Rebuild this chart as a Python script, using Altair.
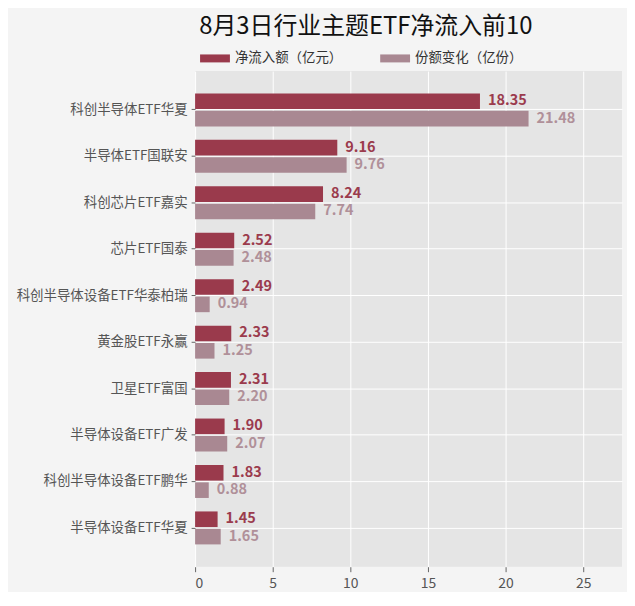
import altair as alt
import pandas as pd

categories = ["科创半导体ETF华夏", "半导体ETF国联安", "科创芯片ETF嘉实", "芯片ETF国泰",
              "科创半导体设备ETF华泰柏瑞", "黄金股ETF永赢", "卫星ETF富国",
              "半导体设备ETF广发", "科创半导体设备ETF鹏华", "半导体设备ETF华夏"]
net_inflow = [18.35, 9.16, 8.24, 2.52, 2.49, 2.33, 2.31, 1.90, 1.83, 1.45]
share_change = [21.48, 9.76, 7.74, 2.48, 0.94, 1.25, 2.20, 2.07, 0.88, 1.65]
series = ["净流入额（亿元）", "份额变化（亿份）"]
x_ticks = [0, 5, 10, 15, 20, 25]

rows = []
for c, a, b in zip(categories, net_inflow, share_change):
    rows.append({"cat": c, "series": series[0], "value": a})
    rows.append({"cat": c, "series": series[1], "value": b})
df = pd.DataFrame(rows)

FONT = "Noto Sans CJK SC"

y_enc = alt.Y("cat:N", sort=categories, title=None,
              scale=alt.Scale(paddingInner=0.29, paddingOuter=0.48),
              axis=alt.Axis(grid=True, gridColor="white", gridWidth=1, bandPosition=0.5,
                            domain=False, ticks=True, tickSize=4, tickColor="#666",
                            labelFontSize=13.5, labelColor="#555", labelPadding=4,
                            labelFont=FONT))
yoff = alt.YOffset("series:N", sort=series, scale=alt.Scale(paddingInner=0.1))
x_enc = alt.X("value:Q", title=None,
              scale=alt.Scale(domain=[0, 27.5], nice=False, zero=True),
              axis=alt.Axis(values=x_ticks, grid=True, gridColor="white", gridWidth=1,
                            domain=False, ticks=True, tickSize=5, tickColor="#666",
                            labelFontSize=14, labelColor="#555", labelFont=FONT,
                            labelPadding=5))

bars = alt.Chart(df).mark_bar().encode(
    y=y_enc, yOffset=yoff, x=x_enc,
    color=alt.Color("series:N", sort=series,
                    scale=alt.Scale(domain=series, range=["#9a3a4c", "#a98892"]),
                    legend=alt.Legend(title=None, orient="none", legendX=10, legendY=-23,
                                      direction="horizontal", columns=2, columnPadding=38,
                                      symbolType="M-1.5,-0.4H1.5V0.4H-1.5Z", symbolSize=400,
                                      symbolStrokeWidth=0, labelFontSize=13.5,
                                      labelColor="#333", labelFont=FONT, labelOffset=10)),
)

labels = alt.Chart(df).mark_text(align="left", baseline="middle", dx=8,
                                 fontSize=14.5, fontWeight="bold", font=FONT).encode(
    y=alt.Y("cat:N", sort=categories), yOffset=alt.YOffset("series:N", sort=series),
    x="value:Q",
    text=alt.Text("value:Q", format=".2f"),
    color=alt.Color("series:N", sort=series,
                    scale=alt.Scale(domain=series, range=["#9b3b4d", "#b09099"]),
                    legend=None),
)

chart = (bars + labels).resolve_scale(color="independent").properties(
    width=429, height=498,
    padding={"left": 8, "top": 6, "right": 5, "bottom": 0},
    title=alt.TitleParams("8月3日行业主题ETF净流入前10", fontSize=24, fontWeight="normal",
                          color="#111", font=FONT, anchor="middle", dx=-43, offset=9),
    background="#f4f4f4",
).configure_view(fill="#e5e5e5", stroke=None)

chart.save("out.html", embed_options={"renderer": "svg", "actions": False})
